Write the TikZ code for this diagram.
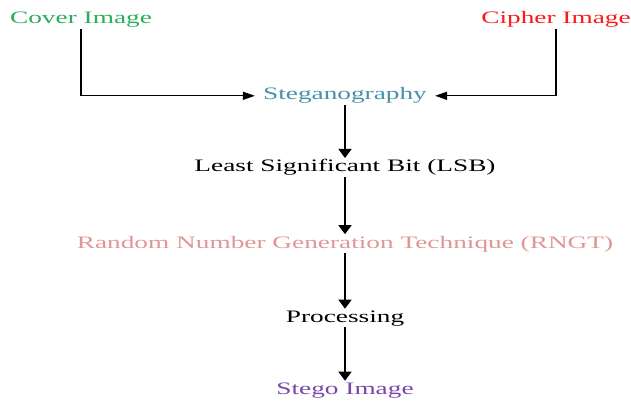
\documentclass[tikz,border=0pt]{standalone}
\usepackage{fontspec}
\setmainfont{Liberation Serif}[FakeStretch=1.56]
\usetikzlibrary{arrows.meta}
\definecolor{covergreen}{RGB}{40,175,90}
\definecolor{cipherred}{RGB}{250,25,25}
\definecolor{stegteal}{RGB}{70,145,170}
\definecolor{rngtpink}{RGB}{225,150,150}
\definecolor{stegopurple}{RGB}{120,70,170}
\tikzset{
  lbl/.style={anchor=base,inner sep=1.5pt,font=\fontsize{17.5}{20}\selectfont},
  hflow/.style={line width=1.3pt,-{Triangle[length=12pt,width=8pt]}},
  vflow/.style={line width=1.6pt,-{Triangle[length=9pt,width=13pt]}}
}
\begin{document}
\begin{tikzpicture}
        [x=1pt,y=-1pt]
        \useasboundingbox (0,0) rectangle (631,403);

        \node[lbl,text=covergreen] (cover) at (81,24) {Cover Image};
        \node[lbl,text=cipherred] (cipher) at (556,24) {Cipher Image};
        \node[lbl,text=stegteal,inner xsep=8pt] (steg) at (345,100) {Steganography};
        \node[lbl] (lsb) at (345,172) {Least Significant Bit (LSB)};
        \node[lbl,text=rngtpink] (rngt) at (345,248) {Random Number Generation Technique (RNGT)};
        \node[lbl] (proc) at (345,322) {Processing};
        \node[lbl,text=stegopurple] (stego) at (345,394) {Stego Image};

        \draw[hflow] (cover.south) |- (steg.west);
        \draw[hflow] (cipher.south) |- (steg.east);

        \draw[vflow] (steg) -- (lsb);
        \draw[vflow] (lsb) -- (rngt);
        \draw[vflow] (rngt) -- (proc);
        \draw[vflow] (proc) -- (stego);
      \end{tikzpicture}
\end{document}
